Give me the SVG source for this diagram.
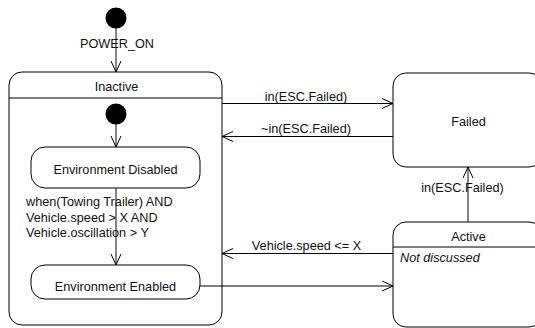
<svg xmlns="http://www.w3.org/2000/svg" width="535" height="328" viewBox="0 0 535 328">
  <style>
    .state { fill: #ffffff; stroke: #000000; stroke-width: 1; }
    .sep { stroke: #000000; stroke-width: 1; fill: none; }
    .init { fill: #000000; }
    .edge { stroke: #000000; stroke-width: 1; fill: none; marker-end: url(#open); }
    .edge-v { stroke: #333333; stroke-width: 1.2; fill: none; marker-end: url(#open); }
    text { font-family: "Liberation Sans", Arial, sans-serif; font-size: 12.7px; fill: #111111; }
    .c { text-anchor: middle; }
    .it { font-style: italic; }
  </style>
  <defs>
    <marker id="open" markerWidth="14" markerHeight="12" refX="11" refY="5.5" orient="auto" markerUnits="userSpaceOnUse">
      <path d="M0,0.5 L11,5.5 L0,10.5" fill="none" stroke="#000000" stroke-width="1"/>
    </marker>
  </defs>

  <rect width="535" height="328" fill="#ffffff"/>

  <!-- top-level initial pseudostate -->
  <g id="initial">
    <circle class="init" cx="116" cy="18" r="10.5"/>
  </g>

  <!-- composite state Inactive -->
  <g id="inactive">
    <rect class="state" x="9" y="72" width="213" height="253" rx="13" ry="13"/>
    <line class="sep" x1="9" y1="98" x2="222" y2="98"/>
    <text class="c" x="116.5" y="91">Inactive</text>
  </g>

  <g id="inner-initial">
    <circle class="init" cx="116" cy="114" r="10.5"/>
  </g>

  <g id="env-disabled">
    <rect class="state" x="31" y="147" width="169" height="41" rx="14" ry="14"/>
    <text class="c" x="115.5" y="174">Environment Disabled</text>
  </g>

  <g id="env-enabled">
    <rect class="state" x="31" y="265" width="169" height="34" rx="14" ry="14"/>
    <text class="c" x="115.5" y="290.5">Environment Enabled</text>
  </g>

  <g id="failed">
    <rect class="state" x="393" y="73" width="149" height="94" rx="13" ry="13"/>
    <text class="c" x="468.5" y="126">Failed</text>
  </g>

  <g id="active">
    <rect class="state" x="393" y="222" width="149" height="105" rx="13" ry="13"/>
    <line class="sep" x1="393" y1="247" x2="542" y2="247"/>
    <text class="c" x="468.5" y="241">Active</text>
    <text class="it" x="400" y="262">Not discussed</text>
  </g>

  <!-- transitions -->
  <g id="connectors">
    <line class="edge-v" x1="116" y1="28" x2="116" y2="72"/>
    <line class="edge-v" x1="116" y1="124" x2="116" y2="147"/>
    <line class="edge-v" x1="116" y1="188" x2="116" y2="265"/>
    <line class="edge" x1="222" y1="103.5" x2="393" y2="103.5"/>
    <line class="edge" x1="393" y1="136.5" x2="222" y2="136.5"/>
    <line class="edge-v" x1="468" y1="222" x2="468" y2="167"/>
    <line class="edge" x1="393" y1="253.5" x2="222" y2="253.5"/>
    <line class="edge" x1="200" y1="286" x2="393" y2="286"/>

    <text class="c" x="117" y="48">POWER_ON</text>
    <text x="26" y="206">when(Towing Trailer) AND</text>
    <text x="26" y="221.5">Vehicle.speed &gt; X AND</text>
    <text x="26" y="237">Vehicle.oscillation &gt; Y</text>
    <text class="c" x="306" y="100.5">in(ESC.Failed)</text>
    <text class="c" x="306" y="133">~in(ESC.Failed)</text>
    <text class="c" x="462.5" y="191.5">in(ESC.Failed)</text>
    <text class="c" x="306.5" y="249.5">Vehicle.speed &lt;= X</text>
  </g>
</svg>
